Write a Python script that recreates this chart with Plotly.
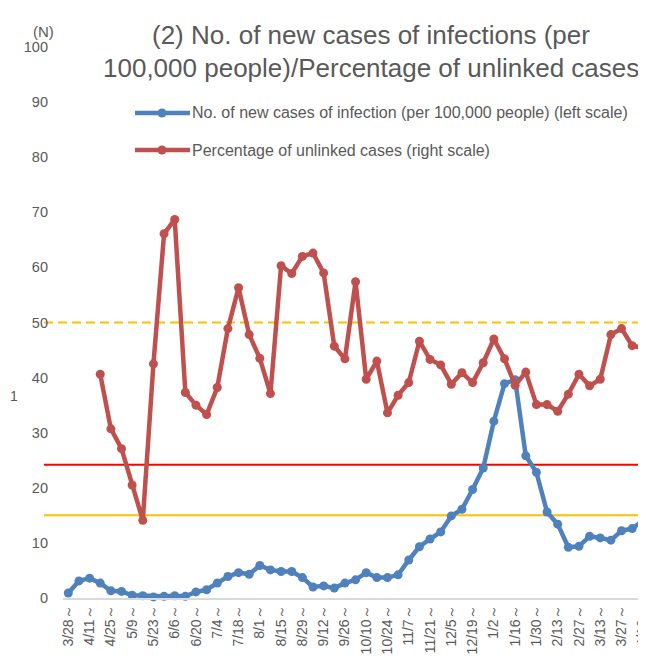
import plotly.graph_objects as go

# ---- data -------------------------------------------------------------------

WEEKS = [
    "3/28", "4/4", "4/11", "4/18", "4/25", "5/2", "5/9", "5/16", "5/23", "5/30",
    "6/6", "6/13", "6/20", "6/27", "7/4", "7/11", "7/18", "7/25", "8/1", "8/8",
    "8/15", "8/22", "8/29", "9/5", "9/12", "9/19", "9/26", "10/3", "10/10", "10/17",
    "10/24", "10/31", "11/7", "11/14", "11/21", "11/28", "12/5", "12/12", "12/19", "12/26",
    "1/2", "1/9", "1/16", "1/23", "1/30", "2/6", "2/13", "2/20", "2/27", "3/6",
    "3/13", "3/20", "3/27", "4/3", "4/10", "4/17",
]
CATEGORIES = [w + "～" for w in WEEKS]

# new cases per 100,000 people (left scale)
NEW_CASES = [
    0.9, 3.1, 3.6, 2.7, 1.3, 1.2, 0.5, 0.4, 0.2, 0.3,
    0.4, 0.3, 1.1, 1.5, 2.7, 3.9, 4.6, 4.3, 5.9, 5.1,
    4.8, 4.8, 3.7, 2.0, 2.2, 1.8, 2.7, 3.3, 4.6, 3.7,
    3.7, 4.2, 6.9, 9.3, 10.7, 12.0, 14.9, 16.1, 19.7, 23.6,
    32.1, 38.9, 39.6, 25.8, 22.8, 15.6, 13.4, 9.2, 9.4, 11.2,
    10.9, 10.5, 12.2, 12.6, 14.0, 17.2,
]

# percentage of unlinked cases (right scale), starts at week 4
UNLINKED_PCT = [
    None, None, None, 40.6, 30.7, 27.1, 20.5, 14.1, 42.5, 66.1,
    68.7, 37.3, 35.0, 33.3, 38.2, 48.9, 56.3, 47.8, 43.5, 37.1,
    60.3, 58.9, 62.0, 62.6, 59.0, 45.7, 43.4, 57.4, 39.7, 43.0,
    33.6, 36.8, 39.1, 46.6, 43.3, 42.3, 38.8, 40.9, 39.1, 42.7,
    47.0, 43.4, 38.6, 41.0, 35.1, 35.1, 33.9, 37.0, 40.6, 38.5,
    39.7, 47.8, 48.9, 45.8, 45.4, 45.5,
]

Y_TICKS = list(range(0, 101, 10))

# reference levels
UNLINKED_LEVEL = 50
STAGE4_LEVEL = 24.2
STAGE3_LEVEL = 15

BLUE = "#4F81BD"
RED = "#C0504D"
GOLD = "#FFC000"
TEXT = "#595959"
FONT = "Liberation Sans, Arial, sans-serif"

# ---- geometry (screen pixels; page body has an 8px margin) -------------------
OFF = 8
W, H = 646 - OFF, 670 - OFF
ML, MR, MT, MB = 63 - OFF, 0, 47 - OFF, 72
PW, PH = W - ML - MR, H - MT - MB


def px(x):
    return (x - OFF - ML) / PW


def py(y):
    return (H - MB - (y - OFF)) / PH


# ---- figure -----------------------------------------------------------------
fig = go.Figure()

fig.add_trace(go.Scatter(
    x=CATEGORIES, y=NEW_CASES, mode="lines+markers",
    name="No. of new cases of infection (per 100,000 people) (left scale)",
    line=dict(color=BLUE, width=4.5), marker=dict(size=9, color=BLUE),
    cliponaxis=False,
))
fig.add_trace(go.Scatter(
    x=CATEGORIES, y=UNLINKED_PCT, mode="lines+markers", yaxis="y2",
    name="Percentage of unlinked cases (right scale)",
    line=dict(color=RED, width=4.5), marker=dict(size=9, color=RED),
    cliponaxis=False,
))

# threshold lines
for level, color, dash, yref in [
    (UNLINKED_LEVEL, GOLD, "9px,5px", "y2"),
    (STAGE4_LEVEL, "#FF0000", "solid", "y"),
    (STAGE3_LEVEL, GOLD, "solid", "y"),
]:
    fig.add_shape(type="line", xref="paper", yref=yref,
                  x0=px(44), x1=1, y0=level, y1=level,
                  line=dict(color=color, width=2, dash=dash), layer="below")

# pseudo-legend
for label, color, ypix in [
    ("No. of new cases of infection (per 100,000 people) (left scale)", BLUE, 113),
    ("Percentage of unlinked cases (right scale)", RED, 150),
]:
    fig.add_shape(type="line", xref="paper", yref="paper",
                  x0=px(135), x1=px(190), y0=py(ypix), y1=py(ypix),
                  line=dict(color=color, width=4.5))
    fig.add_shape(type="circle", xref="paper", yref="paper",
                  x0=px(162 - 4.5), x1=px(162 + 4.5),
                  y0=py(ypix + 4.5), y1=py(ypix - 4.5),
                  fillcolor=color, line=dict(color=color, width=0))
    fig.add_annotation(text=label, xref="paper", yref="paper",
                       x=px(190), y=py(ypix), xanchor="left", yanchor="middle",
                       showarrow=False, font=dict(size=16, color=TEXT))

# title (two lines, positioned separately)
for line, ypix in [
    ("(2) No. of new cases of infections (per", 35),
    ("100,000 people)/Percentage of unlinked cases", 68),
]:
    fig.add_annotation(text=line, xref="paper", yref="paper",
                       x=px(371), y=py(ypix), xanchor="center", yanchor="middle",
                       showarrow=False, font=dict(size=26, color=TEXT))

fig.add_annotation(text="(N)", xref="paper", yref="paper",
                   x=px(43), y=py(31), xanchor="center", yanchor="middle",
                   showarrow=False, font=dict(size=15, color=TEXT))
# fragment of a clipped side label at the far left edge
fig.add_annotation(text="1", xref="paper", yref="paper",
                   x=px(OFF), y=py(396), xanchor="left", yanchor="middle",
                   showarrow=False, font=dict(size=14, color=TEXT))

fig.update_layout(
    width=W, height=H,
    margin=dict(l=ML, r=MR, t=MT, b=MB),
    paper_bgcolor="white", plot_bgcolor="white",
    font=dict(family=FONT, color=TEXT),
    showlegend=False,
    xaxis=dict(
        type="category", categoryorder="array", categoryarray=CATEGORIES,
        range=[-0.5, 54.3], automargin=False,
        tickvals=CATEGORIES[::2], ticktext=CATEGORIES[::2],
        tickangle=-90, tickfont=dict(size=14, color=TEXT),
        showline=True, linecolor="#D9D9D9", linewidth=1.5,
        showgrid=False, ticks="", ticklabelstandoff=0,
    ),
    yaxis=dict(
        range=[0, 100], tickvals=Y_TICKS, showgrid=False, zeroline=False,
        automargin=False,
        tickfont=dict(size=14.5, color=TEXT), ticks="", ticklabelstandoff=14,
    ),
    yaxis2=dict(
        range=[0, 100], overlaying="y", side="right", visible=False,
        automargin=False,
    ),
)

fig.write_html("out.html")
